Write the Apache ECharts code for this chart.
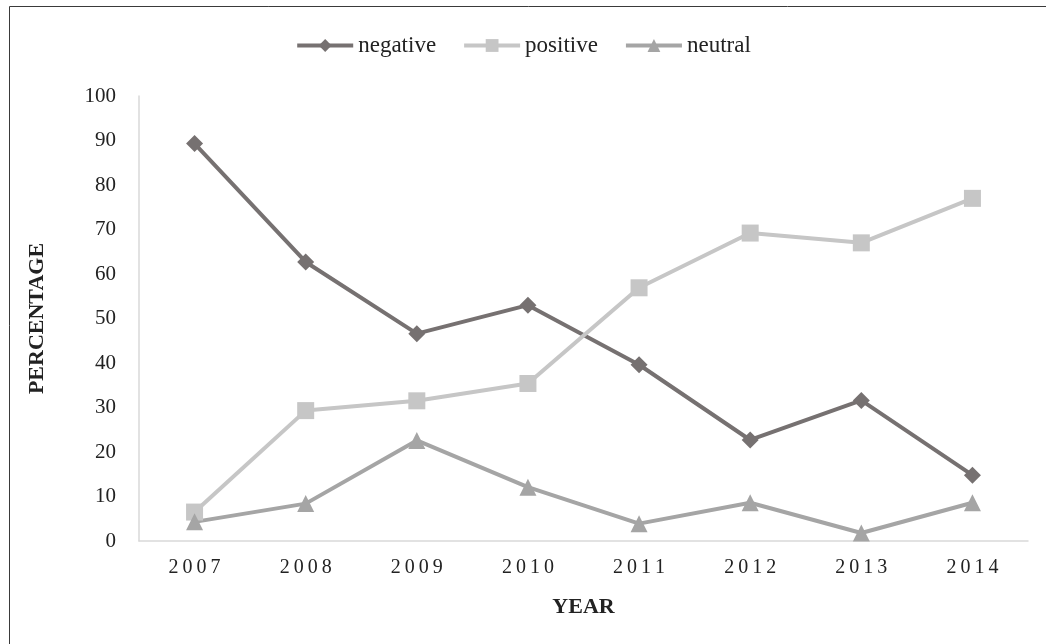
<!DOCTYPE html>
<html>
<head>
<meta charset="UTF-8">
<title></title>
<script src="https://cdn.jsdelivr.net/npm/echarts@6/dist/echarts.min.js"></script>
<style>
  html, body { margin: 0; padding: 0; background: #fff; }
  #main { width: 1046px; height: 644px; }
</style>
</head>
<body>
<div id="main"></div>
<script>
    var years = ['2007', '2008', '2009', '2010', '2011', '2012', '2013', '2014'];
    var negative = [89.3, 62.7, 46.6, 53.0, 39.6, 22.7, 31.6, 14.8];
    var positive = [6.5, 29.3, 31.5, 35.4, 56.9, 69.2, 67.0, 77.0];
    var neutral = [4.3, 8.4, 22.6, 12.1, 3.9, 8.6, 1.8, 8.6];

    var serif = '"Liberation Serif", "DejaVu Serif", serif';

    var myChart = echarts.init(document.getElementById('main'));

    var option = {
        backgroundColor: '#fff',
        textStyle: { fontFamily: serif },
        graphic: [{
            type: 'rect',
            shape: { x: 9.5, y: 6.5, width: 1100, height: 700 },
            style: { fill: 'none', stroke: '#3a3a3a', lineWidth: 1 }
        }],
        legend: {
            top: 29,
            left: 'center',
            itemWidth: 56,
            itemHeight: 16,
            itemGap: 26,
            lineStyle: { width: 4 },
            textStyle: { fontFamily: serif, fontSize: 23, color: '#222' },
            data: ['negative', 'positive', 'neutral']
        },
        grid: { left: 139, right: 18, top: 96, bottom: 103 },
        xAxis: {
            type: 'category',
            data: years,
            boundaryGap: true,
            name: 'YEAR',
            nameLocation: 'middle',
            nameGap: 55,
            nameTextStyle: { fontFamily: serif, fontSize: 22, fontWeight: 'bold', color: '#222' },
            axisLine: { lineStyle: { color: '#d9d9d9', width: 1.5 } },
            axisTick: { show: false },
            axisLabel: {
                margin: 17,
                fontSize: 20,
                color: '#222',
                formatter: function (v) { return v.split('').join('\u2009'); }
            }
        },
        yAxis: {
            type: 'value',
            min: 0,
            max: 100,
            interval: 10,
            name: 'PERCENTAGE',
            nameLocation: 'middle',
            nameGap: 91,
            nameRotate: 90,
            nameTextStyle: { fontFamily: serif, fontSize: 22, fontWeight: 'bold', color: '#222' },
            axisLine: { show: true, lineStyle: { color: '#d9d9d9', width: 1.5 } },
            axisTick: { show: false },
            splitLine: { show: false },
            axisLabel: { margin: 23, fontSize: 21, color: '#222' }
        },
        series: [
            {
                name: 'negative',
                type: 'line',
                data: negative,
                symbol: 'diamond',
                symbolSize: 17,
                itemStyle: { color: '#767171' },
                lineStyle: { color: '#767171', width: 4 }
            },
            {
                name: 'positive',
                type: 'line',
                data: positive,
                symbol: 'rect',
                symbolSize: 17,
                itemStyle: { color: '#c6c6c6' },
                lineStyle: { color: '#c6c6c6', width: 4 }
            },
            {
                name: 'neutral',
                type: 'line',
                data: neutral,
                symbol: 'triangle',
                symbolSize: 17,
                itemStyle: { color: '#a5a5a5' },
                lineStyle: { color: '#a5a5a5', width: 4 }
            }
        ]
    };

    myChart.setOption(option);
</script>
</body>
</html>
